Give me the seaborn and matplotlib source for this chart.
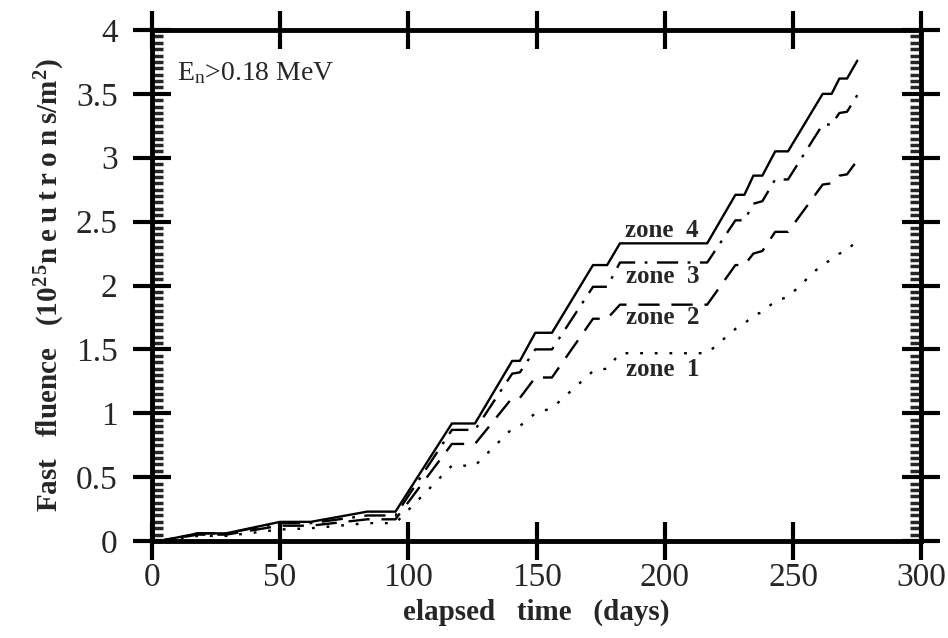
import numpy as np
import pandas as pd
import seaborn as sns
import matplotlib
matplotlib.use("Agg")
import matplotlib.pyplot as plt
from matplotlib.ticker import MultipleLocator, FuncFormatter

# =============================================================================
# Data
# =============================================================================

days = [0, 3, 18, 29, 50, 62, 84, 95, 117, 126, 140.5, 143.5, 149.5, 156,
        172, 177.5, 182.5, 216.5, 227.5, 231, 234.5, 238, 243, 248,
        261.5, 265, 268, 271, 275]

zone4 = [0, 0, 0.06, 0.06, 0.15, 0.15, 0.23, 0.23, 0.92, 0.92, 1.41, 1.41,
         1.63, 1.63, 2.16, 2.16, 2.33, 2.33, 2.71, 2.71, 2.86, 2.86, 3.05,
         3.05, 3.50, 3.50, 3.62, 3.62, 3.76]
zone3 = [0, 0, 0.06, 0.06, 0.14, 0.14, 0.20, 0.20, 0.87, 0.87, 1.31, 1.32,
         1.50, 1.50, 1.99, 1.99, 2.18, 2.18, 2.51, 2.51, 2.64, 2.66, 2.83,
         2.83, 3.26, 3.26, 3.35, 3.36, 3.49]
zone2 = [0, 0, 0.05, 0.05, 0.12, 0.12, 0.17, 0.17, 0.76, 0.76, 1.12, 1.12,
         1.28, 1.28, 1.74, 1.74, 1.85, 1.85, 2.16, 2.16, 2.25, 2.27, 2.42,
         2.42, 2.79, 2.80, 2.86, 2.87, 2.98]
zone1 = [0, 0, 0.04, 0.04, 0.09, 0.10, 0.14, 0.14, 0.59, 0.59, 0.88, 0.90,
         1.00, 1.04, 1.33, 1.35, 1.47, 1.47, 1.66, 1.70, 1.77, 1.79, 1.88,
         1.91, 2.17, 2.20, 2.25, 2.27, 2.36]

zones = ["zone 4", "zone 3", "zone 2", "zone 1"]
label_y = [2.43, 2.07, 1.75, 1.34]

df = pd.concat([
    pd.DataFrame({"day": days, "fluence": vals, "zone": name})
    for name, vals in zip(zones, [zone4, zone3, zone2, zone1])
], ignore_index=True)

# =============================================================================
# Style
# =============================================================================

sns.set_style("ticks")
plt.rcParams["font.family"] = ["Liberation Serif", "DejaVu Serif"]
plt.rcParams["mathtext.fontset"] = "custom"
plt.rcParams["mathtext.rm"] = "Liberation Serif"
plt.rcParams["mathtext.bf"] = "Liberation Serif:bold"
plt.rcParams["mathtext.it"] = "Liberation Serif:italic"

fig = plt.figure(figsize=(9.48, 6.38), dpi=100)
ax = fig.add_axes([0.160, 0.152, 0.812, 0.801])

line_dashes = {
    "zone 4": "",
    "zone 3": (9, 4, 1.2, 4),
    "zone 2": (9, 5),
    "zone 1": (1.2, 5),
}

sns.lineplot(
    data=df, x="day", y="fluence", style="zone", dashes=line_dashes,
    color="black", linewidth=1.7, estimator=None, sort=False,
    legend=False, ax=ax
)

# labels next to the curves
for name, yy in zip(zones, label_y):
    ax.text(199, yy, name.replace(" ", "  "), ha="center", va="center",
            fontsize=18, fontweight="bold")

ax.text(10, 3.66, r"E$_\mathregular{n}$>0.18 MeV", ha="left", va="center",
        fontsize=20)

# =============================================================================
# Axes
# =============================================================================

ax.set_xlim(0, 300)
ax.set_ylim(0, 4)
ax.xaxis.set_major_locator(MultipleLocator(50))
ax.yaxis.set_major_locator(MultipleLocator(0.5))
ax.yaxis.set_minor_locator(MultipleLocator(0.05))
ax.yaxis.set_major_formatter(FuncFormatter(lambda v, p: f"{v:g}"))

for side in ax.spines.values():
    side.set_linewidth(3.5)
    side.set_color("black")

ax.tick_params(which="major", direction="inout", length=27, width=3,
               top=True, right=True, labelsize=24, color="black")
ax.tick_params(axis="y", which="major", pad=11)
ax.tick_params(axis="x", which="major", pad=2)
ax.tick_params(axis="y", which="minor", direction="in", length=8,
               width=2.5, left=True, right=True)

ax.set_xlabel("elapsed   time   (days)", fontsize=21, fontweight="bold",
              labelpad=4)
thin = "\u2009"
ax.set_ylabel(r"Fast   fluence   (10$^{\mathbf{2\,5}}$"
              + thin.join("neutrons") + r"/m$^{\mathbf{2}}$)",
              fontsize=21, fontweight="bold", labelpad=6)

plt.savefig("out.png", dpi=100)
